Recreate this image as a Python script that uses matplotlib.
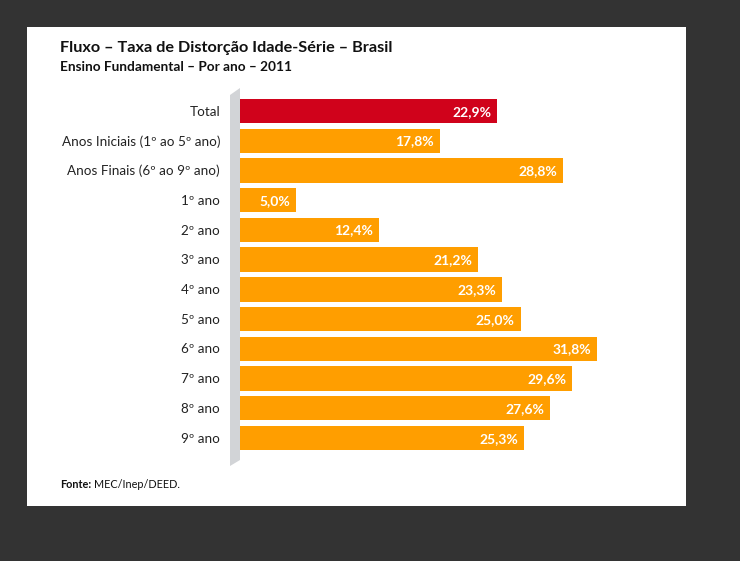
import matplotlib.pyplot as plt
from matplotlib.patches import Rectangle, Polygon

plt.rcParams['font.family'] = ['Lato', 'DejaVu Sans']

categorias = ['Total', 'Anos Iniciais (1º ao 5º ano)', 'Anos Finais (6º ao 9º ano)',
              '1º ano', '2º ano', '3º ano', '4º ano', '5º ano',
              '6º ano', '7º ano', '8º ano', '9º ano']
valores = [22.9, 17.8, 28.8, 5.0, 12.4, 21.2, 23.3, 25.0, 31.8, 29.6, 27.6, 25.3]
rotulos = ['22,9%', '17,8%', '28,8%', '5,0%', '12,4%', '21,2%', '23,3%', '25,0%',
           '31,8%', '29,6%', '27,6%', '25,3%']
cores = ['#D0021B'] + ['#FF9E00'] * 11

W, H = 740, 561
fig = plt.figure(figsize=(W / 100, H / 100), dpi=100)
fig.patch.set_facecolor('#333333')

def fx(x):
    return x / W

def fy(y):
    return 1 - y / H

# painel branco
fig.patches.append(Rectangle((fx(27), fy(506)), (686 - 27) / W, (506 - 27) / H,
                             transform=fig.transFigure, facecolor='white',
                             edgecolor='none', zorder=-2))
# parede cinza
parede = [(230, 95), (240, 88), (240, 460), (230, 466)]
fig.patches.append(Polygon([(fx(a), fy(b)) for a, b in parede], closed=True,
                           transform=fig.transFigure, facecolor='#D2D4D7',
                           edgecolor='none', zorder=-1))

ax_l, ax_t, ax_r, ax_b = 240, 88, 680, 465
ax = fig.add_axes([fx(ax_l), fy(ax_b), (ax_r - ax_l) / W, (ax_b - ax_t) / H])
ax.set_zorder(2)
ax.set_facecolor('none')
px_por = 11.23
passo = 29.73
ax.set_xlim(0, (ax_r - ax_l) / px_por)
ax.set_ylim((ax_b - 111) / passo, (ax_t - 111) / passo)

pos = list(range(len(categorias)))
ax.barh(pos, valores, height=0.82, color=cores, zorder=2)
for i, (v, r) in enumerate(zip(valores, rotulos)):
    ax.text(v - 0.53, i + 0.02, r, ha='right', va='center', color='white',
            fontsize=10, fontweight='bold', zorder=3)
for i, c in enumerate(categorias):
    ax.text(-1.78, i + 0.02, c, ha='right', va='center', color='#222222',
            fontsize=9.7, clip_on=False)

ax.set_xticks([])
ax.set_yticks([])
for s in ax.spines.values():
    s.set_visible(False)

fig.text(fx(60), fy(48), 'Fluxo – Taxa de Distorção Idade-Série – Brasil',
         ha='left', va='center', fontsize=11.7, fontweight='bold', color='#111111')
fig.text(fx(60), fy(67), 'Ensino Fundamental – Por ano – 2011',
         ha='left', va='center', fontsize=9.8, fontweight='bold', color='#111111')
fig.text(fx(60), fy(484), 'Fonte:', ha='left', va='center', fontsize=7.8,
         fontweight='bold', color='#111111')
fig.text(fx(94), fy(484), 'MEC/Inep/DEED.', ha='left', va='center', fontsize=7.8,
         color='#111111')

fig.savefig('out.png', dpi=100, facecolor=fig.get_facecolor())
